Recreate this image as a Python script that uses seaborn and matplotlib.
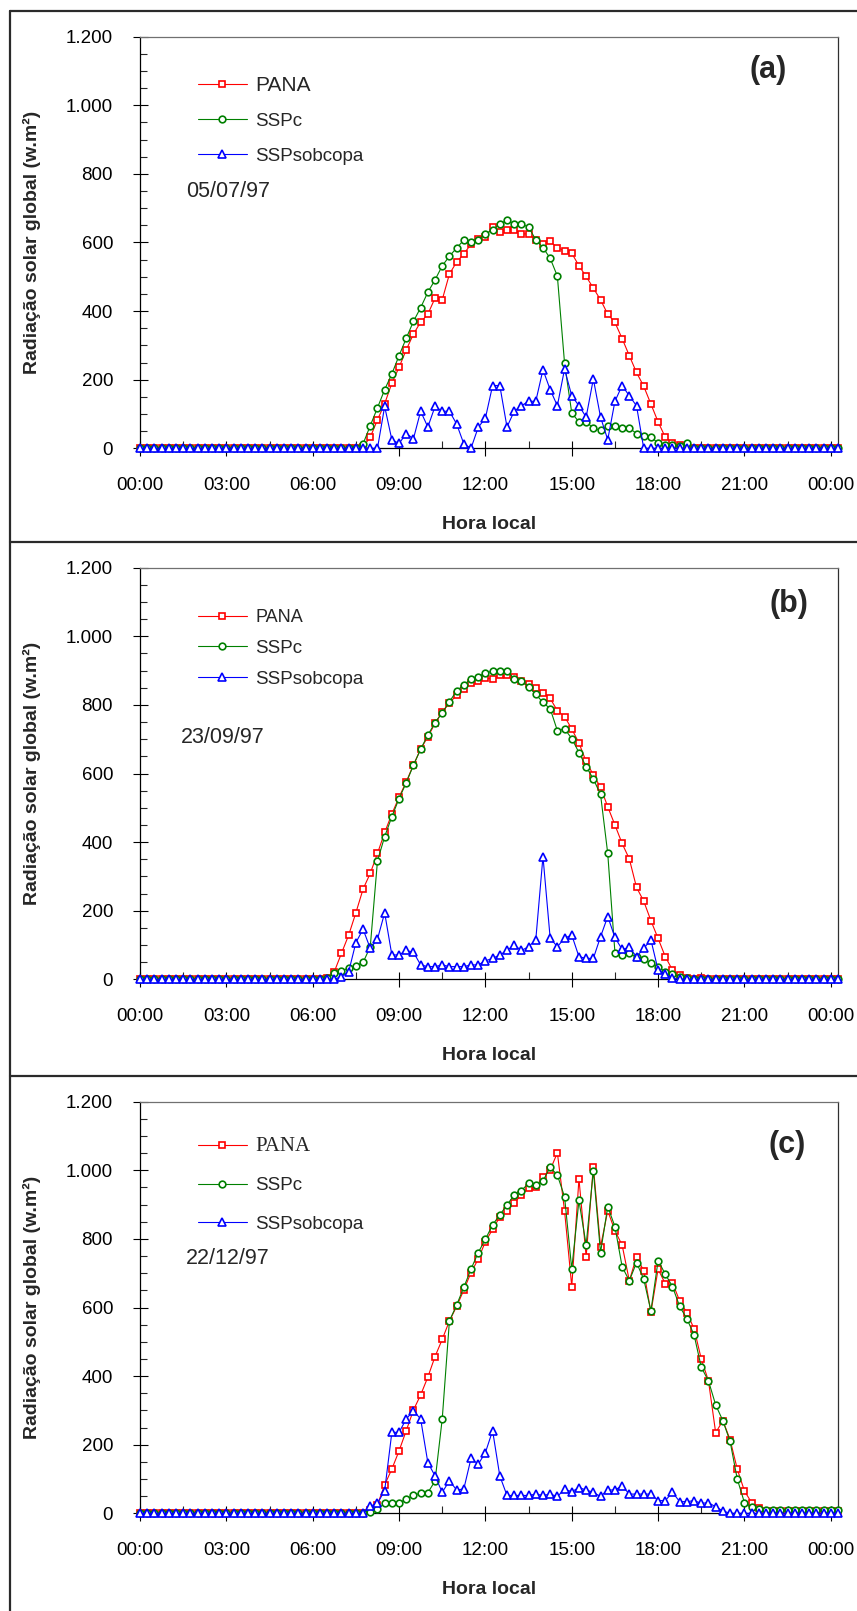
import numpy as np
import matplotlib
matplotlib.use("Agg")
import matplotlib.pyplot as plt
import seaborn as sns
from matplotlib.ticker import MultipleLocator
from matplotlib.lines import Line2D

# ---------------- data ----------------
# sampling instants: every 15 min, 00:00 .. 24:15 (in hours)
hora = np.arange(0, 24.26, 0.25)

xtick_pos = [0, 3, 6, 9, 12, 15, 18, 21, 24]
xtick_labels = ["00:00", "03:00", "06:00", "09:00", "12:00", "15:00", "18:00", "21:00", "00:00"]
ytick_pos = [0, 200, 400, 600, 800, 1000, 1200]
ytick_labels = ["0", "200", "400", "600", "800", "1.000", "1.200"]
series_labels = ["PANA", "SSPc", "SSPsobcopa"]
datas = ["05/07/97", "23/09/97", "22/12/97"]
paineis = ["(a)", "(b)", "(c)"]

# ---- (a) 05/07/97 ----
pana_a = [0, 0, 0, 0,  0, 0, 0, 0,  0, 0, 0, 0,  0, 0, 0, 0,      # 00-03h
          0, 0, 0, 0,  0, 0, 0, 0,  0, 0, 0, 0,  0, 0, 0, 5,      # 04-07h
          32, 83, 130, 190,  236, 287, 333, 368,  391, 438, 433, 508,  543, 567, 595, 610,   # 08-11h
          617, 644, 632, 637,  637, 625, 625, 608,  595, 603, 585, 576,  569, 532, 501, 467,   # 12-15h
          433, 391, 367, 320,  270, 221, 181, 129,  77, 32, 16, 9,  5, 0, 0, 0,               # 16-19h
          0, 0, 0, 0,  0, 0, 0, 0,  0, 0, 0, 0,  0, 0, 0, 0,      # 20-23h
          0, 0]
sspc_a = [0, 0, 0, 0,  0, 0, 0, 0,  0, 0, 0, 0,  0, 0, 0, 0,
          0, 0, 0, 0,  0, 0, 0, 0,  0, 0, 0, 0,  0, 0, 0, 13,
          66, 118, 171, 217,  270, 321, 370, 410,  455, 491, 532, 560,  584, 607, 602, 608,
          625, 637, 653, 666,  654, 654, 645, 608,  585, 554, 502, 248,  103, 77, 77, 59,
          52, 66, 64, 59,  59, 43, 35, 32,  16, 9, 9, 6,  15, 0, 0, 0,
          0, 0, 0, 0,  0, 0, 0, 0,  0, 0, 0, 0,  0, 0, 0, 0,
          0, 0]
ssp_a = [0, 0, 0, 0,  0, 0, 0, 0,  0, 0, 0, 0,  0, 0, 0, 0,
         0, 0, 0, 0,  0, 0, 0, 0,  0, 0, 0, 0,  0, 0, 0, 0,
         0, 0, 122, 25,  14, 43, 28, 108,  62, 122, 108, 108,  71, 13, 0, 61,
         88, 183, 183, 62,  108, 124, 137, 137,  229, 171, 124, 231,  153, 124, 91, 202,
         91, 25, 137, 183,  153, 124, 0, 0,  0, 0, 0, 0,  0, 0, 0, 0,
         0, 0, 0, 0,  0, 0, 0, 0,  0, 0, 0, 0,  0, 0, 0, 0,
         0, 0]

# ---- (b) 23/09/97 ----
pana_b = [0, 0, 0, 0,  0, 0, 0, 0,  0, 0, 0, 0,  0, 0, 0, 0,
          0, 0, 0, 0,  0, 0, 0, 0,  0, 0, 5, 22,  76, 129, 194, 263,
          309, 367, 428, 482,  531, 576, 625, 671,  707, 746, 780, 805,  829, 845, 863, 871,
          878, 876, 887, 887,  882, 871, 861, 848,  836, 819, 783, 766,  730, 689, 635, 596,
          560, 503, 450, 396,  351, 268, 228, 171,  119, 66, 27, 12,  3, 0, 5, 0,
          0, 0, 0, 0,  0, 0, 0, 0,  0, 0, 0, 0,  0, 0, 0, 0,
          0, 0]
sspc_b = [0, 0, 0, 0,  0, 0, 0, 0,  0, 0, 0, 0,  0, 0, 0, 0,
          0, 0, 0, 0,  0, 0, 0, 0,  0, 0, 5, 17,  25, 32, 40, 49,
          95, 345, 416, 474,  527, 573, 624, 671,  712, 748, 777, 809,  841, 858, 876, 882,
          892, 899, 899, 899,  876, 871, 853, 831,  807, 789, 725, 730,  702, 661, 620, 584,
          539, 367, 78, 71,  76, 64, 58, 47,  37, 22, 16, 8,  3, 0, 0, 0,
          0, 0, 0, 0,  0, 0, 0, 0,  0, 0, 0, 0,  0, 0, 0, 0,
          0, 0]
ssp_b = [0, 0, 0, 0,  0, 0, 0, 0,  0, 0, 0, 0,  0, 0, 0, 0,
         0, 0, 0, 0,  0, 0, 0, 0,  0, 0, 0, 0,  8, 22, 107, 146,
         90, 117, 194, 71,  71, 84, 79, 42,  37, 37, 42, 37,  37, 37, 42, 42,
         54, 61, 71, 84,  100, 84, 95, 115,  358, 120, 95, 120,  129, 66, 61, 61,
         124, 183, 122, 87,  93, 66, 90, 115,  27, 16, 3, 0,  0, 0, 0, 0,
         0, 0, 0, 0,  0, 0, 0, 0,  0, 0, 0, 0,  0, 0, 0, 0,
         0, 0]

# ---- (c) 22/12/97 ----
pana_c = [0, 0, 0, 0,  0, 0, 0, 0,  0, 0, 0, 0,  0, 0, 0, 0,
          0, 0, 0, 0,  0, 0, 0, 0,  0, 0, 0, 0,  0, 0, 0, 0,
          10, 25, 83, 129,  182, 241, 301, 345,  397, 457, 507, 561,  603, 651, 702, 741,
          792, 828, 864, 882,  905, 928, 948, 952,  981, 1001, 1051, 882,  661, 975, 748, 1011,
          777, 882, 824, 782,  678, 748, 707, 586,  712, 669, 672, 619,  585, 538, 450, 386,
          235, 270, 215, 129,  65, 31, 15, 8,  6, 6, 6, 6,  6, 6, 6, 6,
          6, 6]
sspc_c = [0, 0, 0, 0,  0, 0, 0, 0,  0, 0, 0, 0,  0, 0, 0, 0,
          0, 0, 0, 0,  0, 0, 0, 0,  0, 0, 0, 0,  0, 0, 0, 0,
          5, 12, 29, 31,  31, 41, 53, 58,  60, 94, 275, 561,  607, 659, 712, 760,
          799, 841, 870, 899,  928, 941, 962, 957,  969, 1009, 986, 923,  712, 912, 782, 999,
          760, 894, 836, 719,  678, 731, 683, 590,  737, 697, 661, 603,  567, 520, 426, 386,
          316, 270, 210, 100,  31, 19, 13, 10,  10, 10, 10, 10,  10, 10, 10, 10,
          10, 10]
ssp_c = [0, 0, 0, 0,  0, 0, 0, 0,  0, 0, 0, 0,  0, 0, 0, 0,
         0, 0, 0, 0,  0, 0, 0, 0,  0, 0, 0, 0,  0, 0, 0, 0,
         21, 29, 66, 236,  236, 275, 299, 275,  148, 109, 61, 95,  68, 71, 160, 143,
         177, 241, 109, 52,  52, 52, 52, 56,  52, 56, 49, 70,  63, 75, 68, 61,
         49, 68, 68, 80,  56, 56, 56, 56,  37, 37, 61, 34,  34, 37, 29, 31,
         19, 7, 0, 0,  0, 0, 0, 0,  0, 0, 0, 0,  0, 0, 0, 0,
         0, 0]

# ---------------- style ----------------
sns.set_style("ticks")
plt.rcParams['font.family'] = ['Liberation Sans', 'DejaVu Sans']
plt.rcParams['axes.linewidth'] = 0.8

W, H = 857, 1611
fig = plt.figure(figsize=(W / 100, H / 100), dpi=100)
fig.patch.set_facecolor("white")


def fx(px):
    return px / W


def fy(py):
    return 1 - py / H


RED, GREEN, BLUE = "#FF0000", "#008000", "#0000FF"

panels = [
    dict(top=36.7, bottom=448.3, series=(pana_a, sspc_a, ssp_a), date=datas[0], tag=paineis[0],
         leg_y=0.905, leg_sp=0.95, date_xy=(0.066, 0.625), tag_xy=(0.90, 0.918),
         pana_font=("Liberation Sans", 15)),
    dict(top=567.7, bottom=979.3, series=(pana_b, sspc_b, ssp_b), date=datas[1], tag=paineis[1],
         leg_y=0.899, leg_sp=0.72, date_xy=(0.059, 0.587), tag_xy=(0.93, 0.912),
         pana_font=("Liberation Sans", 13)),
    dict(top=1101.7, bottom=1513.3, series=(pana_c, sspc_c, ssp_c), date=datas[2], tag=paineis[2],
         leg_y=0.914, leg_sp=1.13, date_xy=(0.066, 0.62), tag_xy=(0.927, 0.895),
         pana_font=("Liberation Serif", 15)),
]

styles = [
    dict(color=RED, marker="s", markersize=5.0),
    dict(color=GREEN, marker="o", markersize=4.8),
    dict(color=BLUE, marker="^", markersize=6.3),
]

for p in panels:
    ax = fig.add_axes([fx(140), fy(p["bottom"]), fx(698), (p["bottom"] - p["top"]) / H])
    for vals, lab, st, z in zip(p["series"], series_labels, styles, (3, 4, 5)):
        assert len(vals) == len(hora)
        sns.lineplot(x=hora, y=vals, ax=ax, color=st["color"], marker=st["marker"],
                     markersize=st["markersize"], markerfacecolor="white",
                     markeredgecolor=st["color"], markeredgewidth=1.2, linewidth=0.8,
                     label=lab, clip_on=False, zorder=z)
    ax.set_xlim(0, 24.25)
    ax.set_ylim(0, 1200)
    ax.set_xticks(xtick_pos)
    ax.set_xticklabels(xtick_labels)
    ax.set_yticks(ytick_pos)
    ax.set_yticklabels(ytick_labels)
    ax.xaxis.set_minor_locator(MultipleLocator(1.5))
    ax.yaxis.set_minor_locator(MultipleLocator(50))
    ax.tick_params(which="major", direction="inout", length=10.8, width=0.8, labelsize=13.5, colors="black")
    ax.tick_params(axis="y", which="major", pad=14)
    ax.tick_params(axis="x", which="major", pad=15.5)
    ax.tick_params(which="minor", direction="in", length=4.8, width=0.8)
    for s in ax.spines.values():
        s.set_visible(True)
        s.set_linewidth(0.9)
    ax.spines["top"].set_color("#707070")
    ax.spines["right"].set_color("#303030")
    ax.spines["left"].set_color("black")
    ax.spines["bottom"].set_color("black")

    ax.set_ylabel("Radiação solar global (w.m²)", fontsize=14, fontweight="bold")
    ax.yaxis.label.set_va("center")
    ax.yaxis.set_label_coords(-0.155, 0.5)
    ax.set_xlabel("Hora local", fontsize=14, fontweight="bold")
    ax.xaxis.set_label_coords(0.5, -0.185)
    ax.xaxis.label.set_va("center")

    leg = ax.legend(loc="upper left", bbox_to_anchor=(0.083, p["leg_y"]), frameon=False,
                    fontsize=13.5, borderpad=0, borderaxespad=0, handlelength=2.6,
                    handletextpad=0.45, labelspacing=p["leg_sp"], numpoints=1)
    t0 = leg.get_texts()[0]
    t0.set_family(p["pana_font"][0])
    t0.set_fontsize(p["pana_font"][1])

    ax.text(p["date_xy"][0], p["date_xy"][1], p["date"], transform=ax.transAxes,
            ha="left", va="center", fontsize=15.5)
    ax.text(p["tag_xy"][0], p["tag_xy"][1], p["tag"], transform=ax.transAxes,
            ha="center", va="center", fontsize=22, fontweight="bold")

# panel frames
frame_kw = dict(transform=fig.transFigure, color="#2a2a2a", linewidth=1.6)
fig.add_artist(Line2D([fx(10), fx(10)], [fy(11), fy(1611)], **frame_kw))
for yy in (11, 541.7, 1076):
    fig.add_artist(Line2D([fx(10), 1.0], [fy(yy), fy(yy)], **frame_kw))

fig.savefig("out.png", dpi=100, facecolor="white")
